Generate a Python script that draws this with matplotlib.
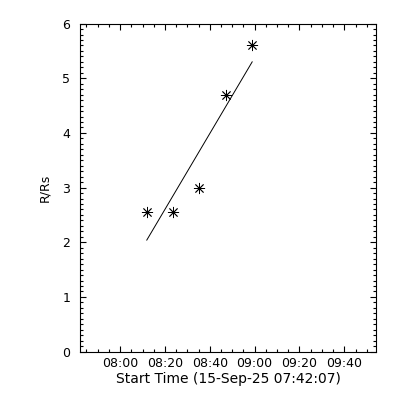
import datetime as dt
import matplotlib
matplotlib.use('Agg')
from matplotlib import pyplot as plt
import matplotlib.dates as mdates

# measured heights (R/Rs) against time
times = ['08:11:54', '08:23:42', '08:35:24', '08:47:18', '08:58:54']
heights = [2.55, 2.55, 3.00, 4.70, 5.60]

# straight-line fit drawn between first and last frame
fit_times = ['08:11:54', '08:58:54']
fit_heights = [2.04, 5.30]

day = '2025-09-15'
start_time = '07:42:07'
end_time = '09:54:07'
y_range = [0, 6]


def to_dt(t):
    return dt.datetime.strptime(day + ' ' + t, '%Y-%m-%d %H:%M:%S')


plt.rcParams['font.family'] = 'DejaVu Sans'
plt.rcParams['font.size'] = 9

fig = plt.figure(figsize=(4, 4), dpi=100)
ax = fig.add_axes([0.2, 0.121, 0.74, 0.82])

ax.plot([to_dt(t) for t in fit_times], fit_heights, color='black', lw=0.7)
ax.plot([to_dt(t) for t in times], heights, linestyle='none', marker=(8, 2, 0),
        markersize=8, markeredgewidth=0.6, color='black')

ax.set_xlim(to_dt(start_time), to_dt(end_time))
ax.set_ylim(*y_range)

ax.xaxis.set_major_locator(mdates.MinuteLocator(byminute=[0, 20, 40]))
ax.xaxis.set_minor_locator(mdates.MinuteLocator(byminute=range(0, 60, 5)))
ax.xaxis.set_major_formatter(mdates.DateFormatter('%H:%M'))
ax.yaxis.set_major_locator(plt.MultipleLocator(1))
ax.yaxis.set_minor_locator(plt.MultipleLocator(0.1))

ax.tick_params(which='both', direction='in', top=True, right=True, width=0.8, color='black')
ax.tick_params(which='major', length=4.5, labelsize=9)
ax.tick_params(axis='x', which='major', pad=4)
ax.tick_params(axis='y', which='major', pad=7)
ax.tick_params(which='minor', length=2.3)
for s in ax.spines.values():
    s.set_linewidth(0.8)

ax.set_xlabel('Start Time (15-Sep-25 ' + start_time + ')', fontsize=10, labelpad=1)
ax.set_ylabel('R/Rs', fontsize=9, labelpad=8)

fig.savefig('out.png', dpi=100)
